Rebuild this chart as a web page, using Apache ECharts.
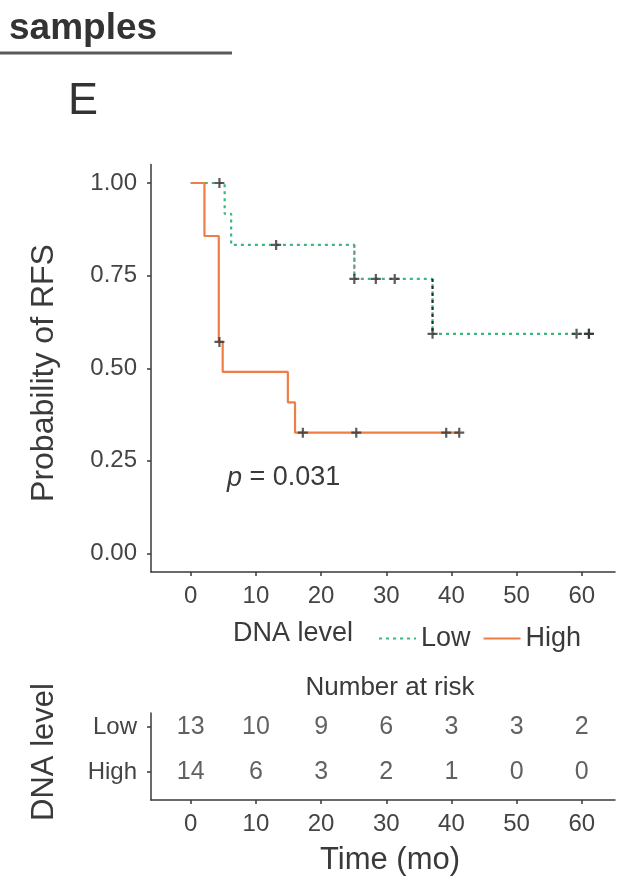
<!DOCTYPE html>
<html>
<head>
<meta charset="utf-8">
<script src="https://cdn.jsdelivr.net/npm/echarts@6/dist/echarts.min.js"></script>
<style>
  html, body { margin: 0; padding: 0; background: #fff; }
  #chart { width: 629px; height: 893px; }
</style>
</head>
<body>
<div id="chart"></div>
<script>
// Kaplan–Meier step curves (time in months, survival probability)
const lowTimes = [0, 5.2, 6.2, 25.1, 37.1, 61.1];
const lowSurv = [1.0, 0.917, 0.833, 0.741, 0.593, 0.593];
const highTimes = [0, 2.1, 4.3, 4.9, 14.9, 16.0, 41.2];
const highSurv = [1.0, 0.857, 0.571, 0.49, 0.408, 0.326, 0.326];

// Censored observations
const lowCensorTimes = [4.4, 13.1, 25.1, 28.4, 31.3, 37.1, 59.2, 61.1, 61.1];
const lowCensorSurv = [1.0, 0.833, 0.741, 0.741, 0.741, 0.593, 0.593, 0.593, 0.593];
const highCensorTimes = [4.4, 17.2, 25.4, 39.2, 41.2];
const highCensorSurv = [0.571, 0.326, 0.326, 0.326, 0.326];

// Number-at-risk table
const riskGroups = ['High', 'Low'];
const riskTimes = [0, 10, 20, 30, 40, 50, 60];
const riskLow = [13, 10, 9, 6, 3, 3, 2];
const riskHigh = [14, 6, 3, 2, 1, 0, 0];

// Axis ticks
const xTicks = [0, 10, 20, 30, 40, 50, 60];
const yTicks = [0, 0.25, 0.5, 0.75, 1.0];

const pValue = '0.031';

const LOW_COLOR = '#3bb77e';
const HIGH_COLOR = '#f07d45';
const INK = '#3a3a3a';
const FONT = 'Liberation Sans';

const zip = (a, b) => a.map((v, i) => [v, b[i]]);
const plusPath = 'path://M3.9,0H6.1V3.9H10V6.1H6.1V10H3.9V6.1H0V3.9H3.9Z';

const axisLineStyle = { show: true, onZero: false, lineStyle: { color: INK, width: 1.5 } };
const axisTickStyle = { show: true, length: 4, lineStyle: { color: INK, width: 1.5 } };
const tickFont = { fontSize: 24, color: '#444', fontFamily: FONT };

const riskData = [];
riskTimes.forEach((t, i) => {
  riskData.push([t, riskGroups.indexOf('Low'), riskLow[i]]);
  riskData.push([t, riskGroups.indexOf('High'), riskHigh[i]]);
});

// Vertical drops of the Low curve that are printed in a darker dotted ink
const darkDrops = [
  { idx: 3, color: '#7f9a8c' },
  { idx: 4, color: '#2b2b2b' }
];
const dropSeries = darkDrops.map(d => ({
  type: 'line', xAxisIndex: 0, yAxisIndex: 0, symbol: 'none', silent: true,
  data: [[lowTimes[d.idx], lowSurv[d.idx - 1]], [lowTimes[d.idx], lowSurv[d.idx]]],
  lineStyle: { color: d.color, width: 2.2, type: [3, 4] }, z: 3
}));

const chart = echarts.init(document.getElementById('chart'), null, { renderer: 'canvas' });

chart.setOption({
  backgroundColor: '#ffffff',
  animation: false,
  textStyle: { fontFamily: FONT },
  grid: [
    { left: 151, width: 464, top: 164.5, height: 407.5 },
    { left: 151, width: 464, top: 713, height: 87 }
  ],
  xAxis: [
    {
      gridIndex: 0, type: 'value', min: -6.1, max: 65.1,
      axisLine: axisLineStyle,
      axisTick: { ...axisTickStyle, customValues: xTicks },
      axisLabel: { ...tickFont, customValues: xTicks, margin: 12 },
      splitLine: { show: false }
    },
    {
      gridIndex: 1, type: 'value', min: -6.1, max: 65.1,
      axisLine: axisLineStyle,
      axisTick: { ...axisTickStyle, customValues: xTicks },
      axisLabel: { ...tickFont, customValues: xTicks, margin: 12 },
      splitLine: { show: false }
    }
  ],
  yAxis: [
    {
      gridIndex: 0, type: 'value', min: -0.05, max: 1.05,
      axisLine: axisLineStyle,
      axisTick: { ...axisTickStyle, customValues: yTicks },
      axisLabel: { ...tickFont, customValues: yTicks, margin: 14, formatter: v => v.toFixed(2) },
      splitLine: { show: false }
    },
    {
      gridIndex: 1, type: 'value', min: -0.62, max: 1.31,
      axisLine: axisLineStyle,
      axisTick: { ...axisTickStyle, customValues: [0, 1] },
      axisLabel: {
        ...tickFont, customValues: [0, 1], margin: 14,
        formatter: v => riskGroups[Math.round(v)]
      },
      splitLine: { show: false }
    }
  ],
  legend: {
    left: 373, top: 620,
    data: ['Low', 'High'],
    itemWidth: 37, itemHeight: 14, itemGap: 12,
    itemStyle: { opacity: 0 },
    textStyle: { fontSize: 27, color: INK, fontFamily: FONT }
  },
  series: [
    {
      name: 'Low', type: 'line', xAxisIndex: 0, yAxisIndex: 0,
      step: 'end', symbol: 'none', data: zip(lowTimes, lowSurv),
      lineStyle: { color: LOW_COLOR, width: 2.2, type: [3, 4] },
      itemStyle: { color: LOW_COLOR }, z: 2
    },
    {
      name: 'High', type: 'line', xAxisIndex: 0, yAxisIndex: 0,
      step: 'end', symbol: 'none', data: zip(highTimes, highSurv),
      lineStyle: { color: HIGH_COLOR, width: 2.2 },
      itemStyle: { color: HIGH_COLOR }, z: 3
    },
    ...dropSeries,
    {
      name: 'Low censored', type: 'scatter', xAxisIndex: 0, yAxisIndex: 0,
      data: zip(lowCensorTimes, lowCensorSurv),
      symbol: plusPath, symbolSize: 10,
      itemStyle: { color: '#333' }, z: 4
    },
    {
      name: 'High censored', type: 'scatter', xAxisIndex: 0, yAxisIndex: 0,
      data: zip(highCensorTimes, highCensorSurv),
      symbol: plusPath, symbolSize: 10,
      itemStyle: { color: '#333' }, z: 4
    },
    {
      name: 'At risk', type: 'scatter', xAxisIndex: 1, yAxisIndex: 1,
      data: riskData, symbolSize: 0,
      label: {
        show: true, position: 'inside', fontSize: 25, color: INK, fontFamily: FONT,
        formatter: p => String(p.value[2])
      }
    }
  ],
  graphic: [
    {
      type: 'text', x: 9, y: 29,
      style: {
        text: 'samples', fontSize: 37, fontWeight: 'bold', fill: '#333', fontFamily: FONT,
        verticalAlign: 'middle'
      }
    },
    {
      type: 'rect', shape: { x: 0, y: 51.5, width: 232, height: 3 },
      style: { fill: '#5a5a5a' }
    },
    {
      type: 'text', x: 68, y: 102,
      style: { text: 'E', fontSize: 45, fill: '#333', fontFamily: FONT, verticalAlign: 'middle' }
    },
    {
      type: 'text', x: 44, y: 373, rotation: Math.PI / 2,
      style: {
        text: 'Probability of RFS', fontSize: 32, fill: INK, fontFamily: FONT,
        align: 'center', verticalAlign: 'middle'
      }
    },
    {
      type: 'text', x: 227, y: 478,
      style: {
        text: '{i|p} = ' + pValue,
        rich: { i: { fontStyle: 'italic', fontSize: 27, fill: INK, fontFamily: FONT } },
        fontSize: 27, fill: INK, fontFamily: FONT, verticalAlign: 'middle'
      }
    },
    {
      type: 'text', x: 353, y: 634,
      style: {
        text: 'DNA level', fontSize: 27, fill: INK, fontFamily: FONT,
        align: 'right', verticalAlign: 'middle'
      }
    },
    {
      type: 'text', x: 390, y: 688,
      style: {
        text: 'Number at risk', fontSize: 26, fill: INK, fontFamily: FONT,
        align: 'center', verticalAlign: 'middle'
      }
    },
    {
      type: 'text', x: 44, y: 752, rotation: Math.PI / 2,
      style: {
        text: 'DNA level', fontSize: 31, fill: INK, fontFamily: FONT,
        align: 'center', verticalAlign: 'middle'
      }
    },
    {
      type: 'text', x: 390, y: 860,
      style: {
        text: 'Time (mo)', fontSize: 31, fill: INK, fontFamily: FONT,
        align: 'center', verticalAlign: 'middle'
      }
    }
  ]
});
</script>
</body>
</html>
